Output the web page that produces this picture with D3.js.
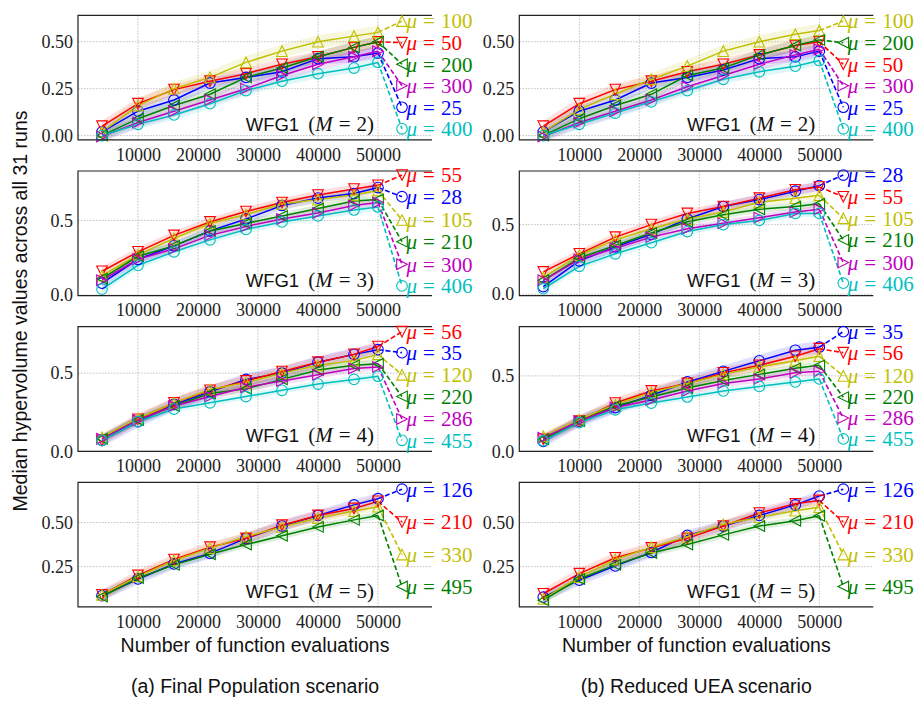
<!DOCTYPE html>
<html><head><meta charset="utf-8">
<script src="https://cdn.jsdelivr.net/npm/d3@7"></script>
<style>body{margin:0;background:#fff} svg{display:block}</style>
</head><body><svg id="c" width="922" height="702"></svg>
<script>
// ---------- data ----------
const evals = [4000, 10000, 16000, 22000, 28000, 34000, 40000, 46000, 50000];
const xTicks = [10000, 20000, 30000, 40000, 50000];
const labelEval = 54000;
const styleColors = ["#0000ff", "#ff0000", "#bfbf00", "#008000", "#bf00bf", "#00bfbf"];
const styleMarkers = ["circle", "down", "up", "left", "right", "circle"];

// Final Population, M=2 (style order: blue, red, yellow, green, magenta, cyan)
const fpM2Mu = [25, 50, 100, 200, 300, 400];
const fpM2Median = [
  [0.02, 0.13, 0.19, 0.28, 0.31, 0.34, 0.41, 0.42, 0.44],
  [0.05, 0.17, 0.245, 0.29, 0.33, 0.38, 0.42, 0.47, 0.50],
  [0.02, 0.16, 0.25, 0.31, 0.39, 0.45, 0.50, 0.53, 0.55],
  [0.00, 0.09, 0.16, 0.22, 0.31, 0.36, 0.42, 0.47, 0.50],
  [-0.005, 0.07, 0.13, 0.19, 0.25, 0.32, 0.38, 0.42, 0.45],
  [0.00, 0.06, 0.11, 0.17, 0.24, 0.29, 0.33, 0.36, 0.39]
];
const fpM2Spread = [0.03, 0.03, 0.035, 0.03, 0.03, 0.025];
const fpM2Label = [0.151, 0.495, 0.61, 0.380, 0.266, 0.036];

// Reduced UEA, M=2
const ruM2Mu = [25, 50, 100, 200, 300, 400];
const ruM2Median = [
  [0.02, 0.13, 0.19, 0.28, 0.31, 0.35, 0.41, 0.42, 0.45],
  [0.05, 0.17, 0.245, 0.29, 0.34, 0.38, 0.43, 0.48, 0.50],
  [0.02, 0.14, 0.22, 0.30, 0.37, 0.45, 0.50, 0.54, 0.56],
  [0.00, 0.09, 0.16, 0.22, 0.32, 0.36, 0.43, 0.48, 0.51],
  [-0.005, 0.07, 0.13, 0.19, 0.26, 0.32, 0.38, 0.43, 0.46],
  [0.00, 0.06, 0.12, 0.18, 0.24, 0.30, 0.34, 0.37, 0.40]
];
const ruM2Spread = [0.03, 0.03, 0.035, 0.03, 0.03, 0.025];
const ruM2Label = [0.151, 0.380, 0.61, 0.495, 0.266, 0.036];

// Final Population, M=3
const fpM3Mu = [28, 55, 105, 210, 300, 406];
const fpM3Median = [
  [0.08, 0.24, 0.33, 0.43, 0.51, 0.60, 0.65, 0.68, 0.72],
  [0.16, 0.29, 0.40, 0.49, 0.56, 0.62, 0.67, 0.71, 0.735],
  [0.13, 0.27, 0.38, 0.48, 0.54, 0.61, 0.64, 0.67, 0.70],
  [0.11, 0.26, 0.33, 0.43, 0.48, 0.53, 0.58, 0.63, 0.64],
  [0.10, 0.24, 0.31, 0.40, 0.46, 0.51, 0.55, 0.60, 0.62],
  [0.04, 0.20, 0.29, 0.37, 0.44, 0.49, 0.53, 0.57, 0.59]
];
const fpM3Spread = [0.03, 0.03, 0.03, 0.025, 0.025, 0.025];
const fpM3Label = [0.659, 0.804, 0.503, 0.358, 0.207, 0.062];

// Reduced UEA, M=3
const ruM3Mu = [28, 55, 105, 210, 300, 406];
const ruM3Median = [
  [0.055, 0.24, 0.34, 0.43, 0.54, 0.63, 0.68, 0.74, 0.78],
  [0.16, 0.29, 0.41, 0.50, 0.58, 0.63, 0.69, 0.75, 0.77],
  [0.12, 0.28, 0.39, 0.47, 0.54, 0.59, 0.66, 0.69, 0.71],
  [0.10, 0.26, 0.35, 0.44, 0.52, 0.57, 0.61, 0.63, 0.65],
  [0.10, 0.25, 0.33, 0.41, 0.47, 0.51, 0.55, 0.59, 0.61],
  [0.04, 0.20, 0.29, 0.37, 0.45, 0.50, 0.53, 0.58, 0.58]
];
const ruM3Spread = [0.035, 0.03, 0.03, 0.025, 0.025, 0.025];
const ruM3Label = [0.856, 0.70, 0.545, 0.39, 0.227, 0.079];

// Final Population, M=4
const fpM4Mu = [35, 56, 120, 220, 286, 455];
const fpM4Median = [
  [0.07, 0.19, 0.30, 0.38, 0.46, 0.50, 0.57, 0.62, 0.65],
  [0.07, 0.205, 0.31, 0.39, 0.45, 0.51, 0.57, 0.62, 0.67],
  [0.09, 0.21, 0.31, 0.395, 0.44, 0.50, 0.55, 0.58, 0.62],
  [0.08, 0.20, 0.29, 0.37, 0.40, 0.46, 0.52, 0.55, 0.56],
  [0.08, 0.20, 0.29, 0.35, 0.41, 0.45, 0.49, 0.53, 0.54],
  [0.07, 0.19, 0.27, 0.31, 0.35, 0.39, 0.43, 0.46, 0.48]
];
const fpM4Spread = [0.04, 0.035, 0.03, 0.025, 0.025, 0.02];
const fpM4Label = [0.631, 0.765, 0.489, 0.351, 0.207, 0.070];

// Reduced UEA, M=4
const ruM4Mu = [35, 56, 120, 220, 286, 455];
const ruM4Median = [
  [0.066, 0.20, 0.29, 0.37, 0.46, 0.53, 0.60, 0.67, 0.69],
  [0.08, 0.20, 0.32, 0.40, 0.45, 0.52, 0.57, 0.63, 0.68],
  [0.10, 0.21, 0.31, 0.39, 0.45, 0.51, 0.56, 0.60, 0.63],
  [0.08, 0.20, 0.30, 0.36, 0.42, 0.47, 0.51, 0.55, 0.57],
  [0.09, 0.20, 0.29, 0.34, 0.40, 0.45, 0.48, 0.52, 0.53],
  [0.07, 0.19, 0.275, 0.32, 0.36, 0.40, 0.43, 0.46, 0.48]
];
const ruM4Spread = [0.04, 0.035, 0.03, 0.025, 0.025, 0.02];
const ruM4Label = [0.793, 0.654, 0.5, 0.359, 0.22, 0.082];

// Final Population, M=5
const fpM5Mu = [126, 210, 330, 495];
const fpM5Median = [
  [0.085, 0.18, 0.265, 0.325, 0.41, 0.48, 0.54, 0.60, 0.635],
  [0.09, 0.20, 0.29, 0.36, 0.41, 0.485, 0.54, 0.58, 0.62],
  [0.09, 0.195, 0.285, 0.355, 0.42, 0.475, 0.525, 0.565, 0.59],
  [0.08, 0.185, 0.26, 0.32, 0.375, 0.425, 0.475, 0.515, 0.54]
];
const fpM5Spread = [0.03, 0.03, 0.025, 0.02];
const fpM5Label = [0.689, 0.503, 0.318, 0.137];

// Reduced UEA, M=5
const ruM5Mu = [126, 210, 330, 495];
const ruM5Median = [
  [0.077, 0.173, 0.254, 0.33, 0.427, 0.48, 0.54, 0.60, 0.65],
  [0.096, 0.21, 0.30, 0.356, 0.41, 0.48, 0.554, 0.606, 0.625],
  [0.067, 0.19, 0.29, 0.36, 0.42, 0.49, 0.53, 0.567, 0.587],
  [0.06, 0.18, 0.26, 0.327, 0.375, 0.43, 0.48, 0.51, 0.538]
];
const ruM5Spread = [0.03, 0.03, 0.025, 0.02];
const ruM5Label = [0.689, 0.503, 0.318, 0.137];

const rowM = [2, 3, 4, 5];
const rowYTicks = [[0, 0.25, 0.5], [0, 0.5], [0, 0.5], [0.25, 0.5]];
const rowTickFmt = [".2f", ".1f", ".1f", ".2f"];
const yDomainsFP = [[-0.023, 0.641], [-0.003, 0.831], [0, 0.797], [0.0216, 0.728]];
const yDomainsRU = [[-0.023, 0.641], [-0.010, 0.885], [0, 0.826], [0.0216, 0.728]];

const captions = ["(a) Final Population scenario", "(b) Reduced UEA scenario"];
const xTitle = "Number of function evaluations";
const yTitle = "Median hypervolume values across all 31 runs";

// ---------- layout ----------
const colX = [78, 519.3];
const panelW = 354;
const rowTop = [15.3, 171, 326.7, 482.3];
const panelH = 124.6;

const panels = [
  [0, 0, fpM2Mu, fpM2Median, fpM2Spread, fpM2Label, yDomainsFP[0]],
  [1, 0, ruM2Mu, ruM2Median, ruM2Spread, ruM2Label, yDomainsRU[0]],
  [0, 1, fpM3Mu, fpM3Median, fpM3Spread, fpM3Label, yDomainsFP[1]],
  [1, 1, ruM3Mu, ruM3Median, ruM3Spread, ruM3Label, yDomainsRU[1]],
  [0, 2, fpM4Mu, fpM4Median, fpM4Spread, fpM4Label, yDomainsFP[2]],
  [1, 2, ruM4Mu, ruM4Median, ruM4Spread, ruM4Label, yDomainsRU[2]],
  [0, 3, fpM5Mu, fpM5Median, fpM5Spread, fpM5Label, yDomainsFP[3]],
  [1, 3, ruM5Mu, ruM5Median, ruM5Spread, ruM5Label, yDomainsRU[3]]
];

const svg = d3.select("#c");
const serif = "'Liberation Serif', 'Times New Roman', serif";
const sans = "'Liberation Sans', Arial, sans-serif";

function markerPath(type, r) {
  switch (type) {
    case "circle": return `M${r},0A${r},${r} 0 1,1 ${-r},0A${r},${r} 0 1,1 ${r},0Z`;
    case "up": return `M0,${-r}L${r},${r}L${-r},${r}Z`;
    case "down": return `M0,${r}L${r},${-r}L${-r},${-r}Z`;
    case "left": return `M${-r},0L${r},${-r}L${r},${r}Z`;
    case "right": return `M${r},0L${-r},${-r}L${-r},${r}Z`;
  }
}

panels.forEach(([col, row, mus, med, spread, labs, ydom], pi) => {
  const x0 = colX[col], y0 = rowTop[row];
  const g = svg.append("g").attr("transform", `translate(${x0},${y0})`);
  const x = d3.scaleLinear().domain([0, 59000]).range([0, panelW]);
  const y = d3.scaleLinear().domain(ydom).range([panelH, 0]);

  // grid
  g.append("g").selectAll("line").data(xTicks).join("line")
    .attr("x1", d => x(d)).attr("x2", d => x(d)).attr("y1", 0).attr("y2", panelH)
    .attr("stroke", "#b0b0b0").attr("stroke-width", 0.8).attr("stroke-dasharray", "1.5,1.5");
  g.append("g").selectAll("line").data(rowYTicks[row]).join("line")
    .attr("x1", 0).attr("x2", panelW).attr("y1", d => y(d)).attr("y2", d => y(d))
    .attr("stroke", "#b0b0b0").attr("stroke-width", 0.8).attr("stroke-dasharray", "1.5,1.5");

  // axes (tick labels)
  const xa = d3.axisBottom(x).tickValues(xTicks).tickSize(0).tickPadding(8).tickFormat(d3.format("d"));
  const gx = g.append("g").attr("transform", `translate(0,${panelH})`).call(xa);
  gx.select(".domain").remove();
  gx.selectAll("text").attr("font-family", serif).attr("font-size", 18).attr("fill", "#222");
  const ya = d3.axisLeft(y).tickValues(rowYTicks[row]).tickSize(0).tickPadding(5).tickFormat(d3.format(rowTickFmt[row]));
  const gy = g.append("g").call(ya);
  gy.select(".domain").remove();
  gy.selectAll("text").attr("font-family", serif).attr("font-size", 18).attr("fill", "#222");

  const clipId = "clip" + pi;
  g.append("clipPath").attr("id", clipId).append("rect").attr("width", panelW).attr("height", panelH);
  const plot = g.append("g").attr("clip-path", `url(#${clipId})`);

  // bands
  med.forEach((vals, si) => {
    const area = d3.area().x((d, i) => x(evals[i])).y0(d => y(d - spread[si])).y1(d => y(d + spread[si]));
    plot.append("path").attr("d", area(vals)).attr("fill", styleColors[si]).attr("fill-opacity", 0.13);
  });
  // dashed connectors
  med.forEach((vals, si) => {
    plot.append("line")
      .attr("x1", x(evals[evals.length - 1])).attr("y1", y(vals[vals.length - 1]))
      .attr("x2", x(labelEval)).attr("y2", y(labs[si]))
      .attr("stroke", styleColors[si]).attr("stroke-width", 1.6).attr("stroke-dasharray", "5,2.5");
  });
  // lines
  const line = d3.line().x((d, i) => x(evals[i])).y(d => y(d));
  med.forEach((vals, si) => {
    plot.append("path").attr("d", line(vals)).attr("fill", "none")
      .attr("stroke", styleColors[si]).attr("stroke-width", 1.5);
  });
  // markers
  med.forEach((vals, si) => {
    g.append("g").selectAll("path").data(vals).join("path")
      .attr("transform", (d, i) => `translate(${x(evals[i])},${y(d)})`)
      .attr("d", markerPath(styleMarkers[si], 5.3))
      .attr("fill", "none").attr("stroke", styleColors[si]).attr("stroke-width", 1.1);
  });

  // spines
  g.append("path").attr("d", `M${panelW},0H0V${panelH}H${panelW}`)
    .attr("fill", "none").attr("stroke", "#222").attr("stroke-width", 1.2);

  // labels
  med.forEach((vals, si) => {
    const lx = x(labelEval), ly = y(labs[si]);
    g.append("path").attr("transform", `translate(${lx},${ly})`)
      .attr("d", markerPath(styleMarkers[si], 5.3))
      .attr("fill", "none").attr("stroke", styleColors[si]).attr("stroke-width", 1.1);
    const t = g.append("text").attr("x", lx + 4.5).attr("y", ly).attr("dy", "0.35em")
      .attr("font-family", serif).attr("font-size", 21).attr("fill", styleColors[si]);
    t.append("tspan").attr("font-style", "italic").text("μ");
    t.append("tspan").attr("dx", 6).text("=");
    t.append("tspan").attr("dx", 6).text(mus[si]);
  });

  // panel title
  const tt = g.append("text").attr("x", 296).attr("y", panelH - 9)
    .attr("text-anchor", "end").attr("fill", "#111");
  tt.append("tspan").attr("font-family", sans).attr("font-size", 18.5).text("WFG1");
  tt.append("tspan").attr("font-family", serif).attr("font-size", 21).attr("dx", 9).text("(");
  tt.append("tspan").attr("font-family", serif).attr("font-size", 21).attr("font-style", "italic").text("M");
  tt.append("tspan").attr("font-family", serif).attr("font-size", 21).attr("dx", 6).text("=");
  tt.append("tspan").attr("font-family", serif).attr("font-size", 21).attr("dx", 6).text(rowM[row]);
  tt.append("tspan").attr("font-family", serif).attr("font-size", 21).text(")");
});

// axis titles and captions
[0, 1].forEach(c => {
  const cx = colX[c] + panelW / 2;
  svg.append("text").attr("x", cx).attr("y", 652).attr("text-anchor", "middle")
    .attr("font-family", sans).attr("font-size", 19.5).attr("fill", "#111").text(xTitle);
  svg.append("text").attr("x", cx).attr("y", 693).attr("text-anchor", "middle")
    .attr("font-family", sans).attr("font-size", 19.5).attr("fill", "#111").text(captions[c]);
});
svg.append("text").attr("transform", "translate(27,311) rotate(-90)").attr("text-anchor", "middle")
  .attr("font-family", sans).attr("font-size", 19.5).attr("fill", "#111").text(yTitle);
</script>
</body></html>
